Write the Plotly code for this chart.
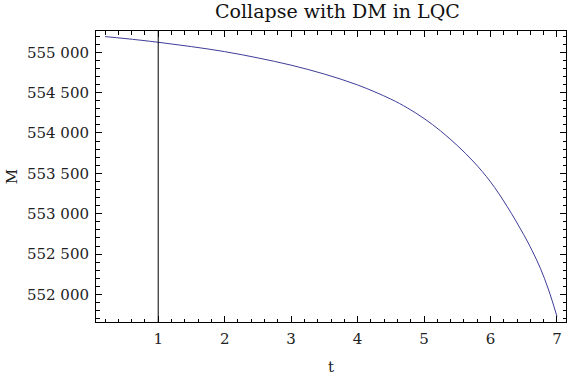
import plotly.graph_objects as go

# Data
t_vals = [0.2, 0.5, 1.0, 1.5, 2.0, 2.5, 3.0, 3.5, 4.0, 4.5, 4.75, 5.0, 5.25, 5.5, 5.75,
          6.0, 6.25, 6.5, 6.625, 6.75, 6.875, 7.0]
m_vals = [555194, 555170, 555124, 555070, 555008, 554930, 554840, 554730, 554595,
          554420, 554310, 554180, 554025, 553845, 553640, 553395, 553090, 552740,
          552545, 552325, 552055, 551728]

title_text = "Collapse with DM in LQC"
x_label = "t"
y_label = "M"
axis_origin_t = 1

FONT = "DejaVu Serif"

def padded(vals, frac=0.02):
    lo, hi = min(vals), max(vals)
    span = hi - lo
    return [lo - frac * span, hi + frac * span]

fig = go.Figure()
fig.add_trace(go.Scatter(
    x=t_vals, y=m_vals, mode="lines",
    line=dict(color="#3d3d99", width=1, shape="spline", smoothing=1.0),
    hoverinfo="skip", showlegend=False,
))

fig.add_vline(x=axis_origin_t, line=dict(color="black", width=1))

axis_common = dict(
    showgrid=False, zeroline=False, showline=True, linecolor="black", linewidth=1,
    mirror="allticks", ticks="inside", ticklen=6, tickwidth=1, tickcolor="black",
    tickfont=dict(family=FONT, size=15, color="#222"), automargin=False,
)

fig.update_xaxes(
    range=padded(t_vals), tickmode="linear", tick0=0, dtick=1,
    minor=dict(ticks="inside", ticklen=3.5, tickwidth=1, tickcolor="black",
               tickmode="linear", tick0=0, dtick=0.2, showgrid=False),
    title=dict(text=x_label, font=dict(family=FONT, size=15, color="#222"), standoff=14),
    ticklabelstandoff=3,
    **axis_common,
)
fig.update_yaxes(
    range=padded(m_vals), tickmode="linear", tick0=0, dtick=500, tickformat=",d",
    minor=dict(ticks="inside", ticklen=3.5, tickwidth=1, tickcolor="black",
               tickmode="linear", tick0=0, dtick=100, showgrid=False),
    title=dict(text=y_label, font=dict(family=FONT, size=15, color="#222"), standoff=5),
    ticklabelstandoff=3,
    **axis_common,
)

fig.update_layout(
    width=568, height=383,
    margin=dict(l=96, r=2, t=31, b=61, autoexpand=False),
    paper_bgcolor="white", plot_bgcolor="white",
    separators=". ",
    font=dict(family=FONT),
    title=dict(text=title_text, font=dict(family=FONT, size=19, color="#111"),
               x=0.594, xanchor="center", y=0.97, yanchor="middle", automargin=False),
)

fig.write_html("out.html")
